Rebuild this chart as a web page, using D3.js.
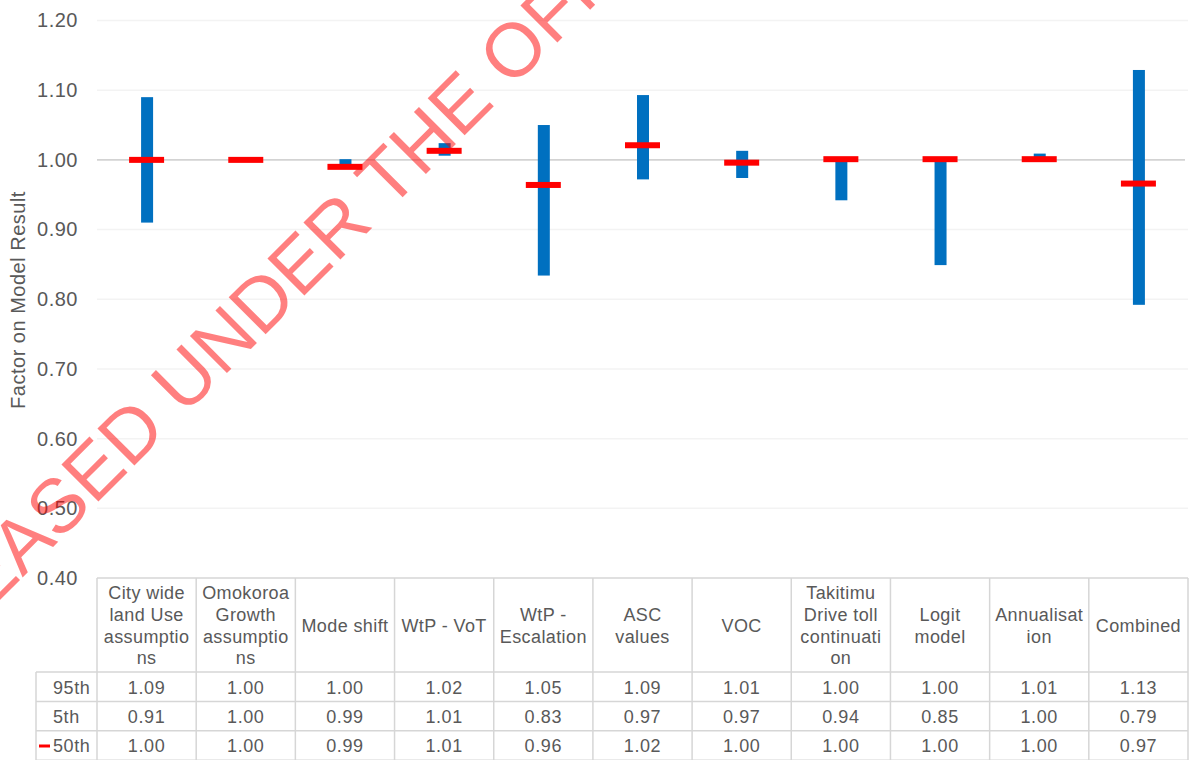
<!DOCTYPE html>
<html>
<head>
<meta charset="utf-8">
<script src="https://cdn.jsdelivr.net/npm/d3@7"></script>
<style>
  html, body { margin: 0; padding: 0; background: #ffffff; }
  svg { display: block; font-family: "Liberation Sans", Arial, sans-serif; }
</style>
</head>
<body>
<svg id="chart" width="1192" height="760"></svg>
<script>
// ---- data ----
const categories = [
  ["City wide", "land Use", "assumptio", "ns"],
  ["Omokoroa", "Growth", "assumptio", "ns"],
  ["Mode shift"],
  ["WtP - VoT"],
  ["WtP -", "Escalation"],
  ["ASC", "values"],
  ["VOC"],
  ["Takitimu", "Drive toll", "continuati", "on"],
  ["Logit", "model"],
  ["Annualisat", "ion"],
  ["Combined"]
];
const p95 = [1.09, 1.00, 1.001, 1.024, 1.05, 1.093, 1.013, 1.001, 1.001, 1.009, 1.129];
const p5  = [0.91, 1.00, 0.99, 1.006, 0.834, 0.972, 0.974, 0.942, 0.849, 1.001, 0.792];
const p50 = [1.00, 1.00, 0.99, 1.013, 0.964, 1.021, 0.996, 1.001, 1.001, 1.001, 0.966];
const rowLabels = ["95th", "5th", "50th"];
const yTicks = [0.40, 0.50, 0.60, 0.70, 0.80, 0.90, 1.00, 1.10, 1.20];
const yTitle = "Factor on Model Result";
const watermark = "RELEASED UNDER THE OFFICIAL INFORMATION ACT";

(function () {
// ---- layout ----
const svg = d3.select("#chart");
const plotLeft = 97, plotRight = 1188, plotTop = 20.5, plotBottom = 578;
const textColor = "#595959";
const borderColor = "#d6d6d6";

const x = d3.scaleBand().domain(d3.range(categories.length)).range([plotLeft, plotRight]).padding(0);
const y = d3.scaleLinear().domain([0.40, 1.20]).range([plotBottom, plotTop]);
const cx = i => x(i) + x.bandwidth() / 2;
const fmt = d3.format(".2f");

// faint gridlines
svg.append("g").selectAll("line")
  .data(yTicks.filter(d => d > 0.4 && Math.abs(d - 1) > 1e-9))
  .join("line")
  .attr("x1", plotLeft).attr("x2", plotRight)
  .attr("y1", d => y(d)).attr("y2", d => y(d))
  .attr("stroke", "#f3f3f3").attr("stroke-width", 1.5);

// category axis line at 1.00
svg.append("line")
  .attr("x1", plotLeft).attr("x2", plotRight - 3)
  .attr("y1", y(1.0)).attr("y2", y(1.0))
  .attr("stroke", "#d3d3d3").attr("stroke-width", 1.6);

// y axis
const yAxis = svg.append("g")
  .attr("transform", `translate(${plotLeft},0)`)
  .call(d3.axisLeft(y).tickValues(yTicks).tickFormat(fmt).tickSize(0).tickPadding(19));
yAxis.select(".domain").remove();
yAxis.selectAll("text")
  .attr("fill", textColor)
  .style("font-size", "20px")
  .style("letter-spacing", "0.5px")
  .style("font-family", "'Liberation Sans', Arial, sans-serif");

// y title
svg.append("text")
  .attr("transform", `translate(25,300) rotate(-90)`)
  .attr("text-anchor", "middle")
  .attr("fill", textColor)
  .style("font-size", "20px")
  .style("letter-spacing", "0.5px")
  .text(yTitle);

// range bars (5th - 95th)
svg.append("g").selectAll("rect")
  .data(categories.map((c, i) => i))
  .join("rect")
  .attr("x", i => cx(i) - 5.5)
  .attr("width", 12)
  .attr("y", i => y(p95[i]))
  .attr("height", i => Math.max(0, y(p5[i]) - y(p95[i])))
  .attr("fill", "#0070C0");

// 50th markers
svg.append("g").selectAll("rect")
  .data(categories.map((c, i) => i))
  .join("rect")
  .attr("x", i => cx(i) - 17.5)
  .attr("width", 35)
  .attr("y", i => y(p50[i]) - 3)
  .attr("height", 6)
  .attr("fill", "#FF0000");

// ---- data table ----
const headerBottom = 672, rowH = 29.4, labelLeft = 36;
const table = svg.append("g");
table.append("line").attr("x1", plotLeft).attr("x2", plotRight).attr("y1", plotBottom).attr("y2", plotBottom)
  .attr("stroke", borderColor).attr("stroke-width", 1.5);
[0, 1, 2, 3].forEach(r => {
  table.append("line").attr("x1", labelLeft).attr("x2", plotRight)
    .attr("y1", headerBottom + r * rowH).attr("y2", headerBottom + r * rowH)
    .attr("stroke", borderColor).attr("stroke-width", 1.5);
});
table.append("line").attr("x1", labelLeft).attr("x2", labelLeft).attr("y1", headerBottom).attr("y2", 760)
  .attr("stroke", borderColor).attr("stroke-width", 1.5);
d3.range(categories.length + 1).forEach(i => {
  const xx = i < categories.length ? x(i) : plotRight;
  table.append("line").attr("x1", xx).attr("x2", xx).attr("y1", plotBottom).attr("y2", 760)
    .attr("stroke", borderColor).attr("stroke-width", 1.5);
});

// header text
const lineH = 21.7;
categories.forEach((lines, i) => {
  const mid = (plotBottom + headerBottom) / 2 + 0.5;
  const t = table.append("text")
    .attr("text-anchor", "middle")
    .attr("fill", textColor)
    .style("font-size", "18px")
    .style("letter-spacing", "0.4px");
  lines.forEach((ln, k) => {
    t.append("tspan")
      .attr("x", cx(i))
      .attr("y", mid + (k - (lines.length - 1) / 2) * lineH)
      .attr("dy", "0.35em")
      .text(ln);
  });
});

// data rows
const rows = [p95, p5, p50];
rows.forEach((vals, r) => {
  const ym = headerBottom + (r + 0.5) * rowH + 0.5;
  table.append("text")
    .attr("x", 53).attr("y", ym).attr("dy", "0.35em")
    .attr("fill", textColor)
    .style("font-size", "18px").style("letter-spacing", "0.6px")
    .text(rowLabels[r]);
  vals.forEach((v, i) => {
    table.append("text")
      .attr("x", cx(i)).attr("y", ym).attr("dy", "0.35em")
      .attr("text-anchor", "middle")
      .attr("fill", textColor)
      .style("font-size", "18px").style("letter-spacing", "0.6px")
      .text(fmt(v));
  });
});
// legend key for 50th
table.append("line")
  .attr("x1", 39).attr("x2", 50)
  .attr("y1", headerBottom + 2.5 * rowH + 0.5).attr("y2", headerBottom + 2.5 * rowH + 0.5)
  .attr("stroke", "#FF0000").attr("stroke-width", 3);

// ---- watermark ----
svg.append("text")
  .attr("transform", "translate(-118,718) rotate(-45)")
  .attr("fill", "#FF0000")
  .attr("fill-opacity", 0.5)
  .style("font-size", "76px")
  .text(watermark);
})();
</script>
</body>
</html>
